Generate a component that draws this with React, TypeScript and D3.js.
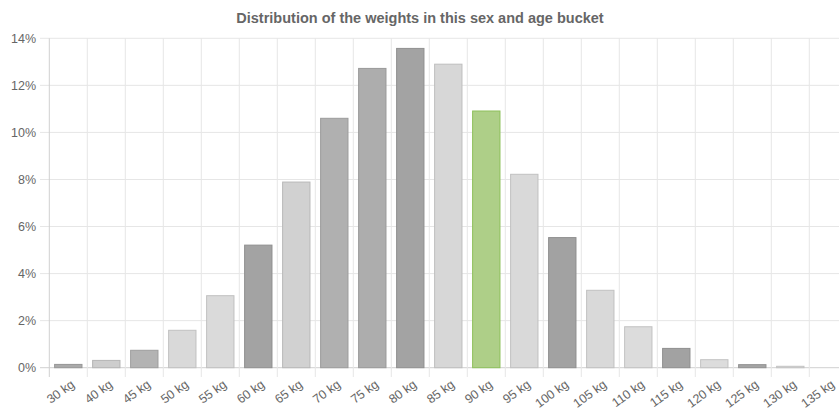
import * as d3 from "d3";

// weight buckets and share of people in each (%)
const categories = [
  "30 kg", "40 kg", "45 kg", "50 kg", "55 kg", "60 kg", "65 kg", "70 kg",
  "75 kg", "80 kg", "85 kg", "90 kg", "95 kg", "100 kg", "105 kg", "110 kg",
  "115 kg", "120 kg", "125 kg", "130 kg", "135 kg",
];
const shares = [
  0.14, 0.31, 0.74, 1.59, 3.06, 5.21, 7.89, 10.6, 12.72, 13.57, 12.9, 10.91,
  8.22, 5.53, 3.29, 1.74, 0.82, 0.34, 0.13, 0.06, 0,
];
const yTicks = [0, 2, 4, 6, 8, 10, 12, 14];
const title = "Distribution of the weights in this sex and age bucket";

// bar colours, one per bucket (the green one is the highlighted bucket)
const fills = [
  "#aaaaaa", "#cdcdcd", "#b3b3b3", "#d9d9d9", "#dadada", "#a3a3a3", "#d1d1d1",
  "#b0b0b0", "#adadad", "#a3a3a3", "#d7d7d7", "#aecf88", "#d9d9d9", "#a2a2a2",
  "#d9d9d9", "#dcdcdc", "#a2a2a2", "#dcdcdc", "#a5a5a5", "#dcdcdc", "#dcdcdc",
];

const W = 839;
const H = 410;
const FONT = "'Liberation Sans', Arial, Helvetica, sans-serif";

const App = () => {
  const x = d3
    .scaleBand<string>()
    .domain(categories)
    .range([49.3, 49.3 + 38 * categories.length])
    .paddingInner(0)
    .paddingOuter(0);
  const y = d3.scaleLinear().domain([0, 14]).range([367.7, 38.3]);
  const barW = x.bandwidth() * 0.72;
  const border = (c: string) => d3.color(c)!.darker(0.35).formatHex();
  const green = "#8dc05a";

  const boundaries = categories.map((c) => x(c)!).concat([x.range()[1]]);

  return (
    <div style={{ position: "absolute", left: 0, top: 0, width: W, height: H, overflow: "hidden", background: "#fff" }}>
      <svg width={W} height={H} style={{ display: "block", fontFamily: FONT }}>
        {/* title */}
        <text x={420} y={23} textAnchor="middle" fontSize={14.5} fontWeight="bold" fill="#666">
          {title}
        </text>

        {/* horizontal grid */}
        {yTicks.map((t) => (
          <g key={t}>
            <line
              x1={40}
              x2={W}
              y1={y(t)}
              y2={y(t)}
              stroke={t === 0 ? "#d0d0d0" : "#e6e6e6"}
              strokeWidth={1}
            />
            <text x={36} y={y(t)} dy="0.35em" textAnchor="end" fontSize={12.5} fill="#666">
              {t}%
            </text>
          </g>
        ))}

        {/* vertical grid at category boundaries */}
        {boundaries.map((b, i) => (
          <line
            key={i}
            x1={b}
            x2={b}
            y1={38.3}
            y2={377}
            stroke={i === 0 ? "#d0d0d0" : "#e6e6e6"}
            strokeWidth={1}
          />
        ))}

        {/* bars */}
        {categories.map((c, i) => {
          const cx = x(c)! + x.bandwidth() / 2;
          const top = y(shares[i]);
          const h = y(0) - top;
          if (h <= 0) return null;
          const fill = fills[i];
          return (
            <rect
              key={c}
              x={cx - barW / 2}
              y={top}
              width={barW}
              height={h}
              fill={fill}
              stroke={i === 11 ? green : border(fill)}
              strokeWidth={1}
            />
          );
        })}

        {/* x labels */}
        {categories.map((c) => {
          const cx = x(c)! + x.bandwidth() / 2;
          return (
            <text
              key={c}
              transform={`translate(${cx + 2},${379}) rotate(-36)`}
              textAnchor="end"
              dy="0.7em"
              fontSize={12.5}
              fill="#666"
            >
              {c}
            </text>
          );
        })}
      </svg>
    </div>
  );
};

export default App;
